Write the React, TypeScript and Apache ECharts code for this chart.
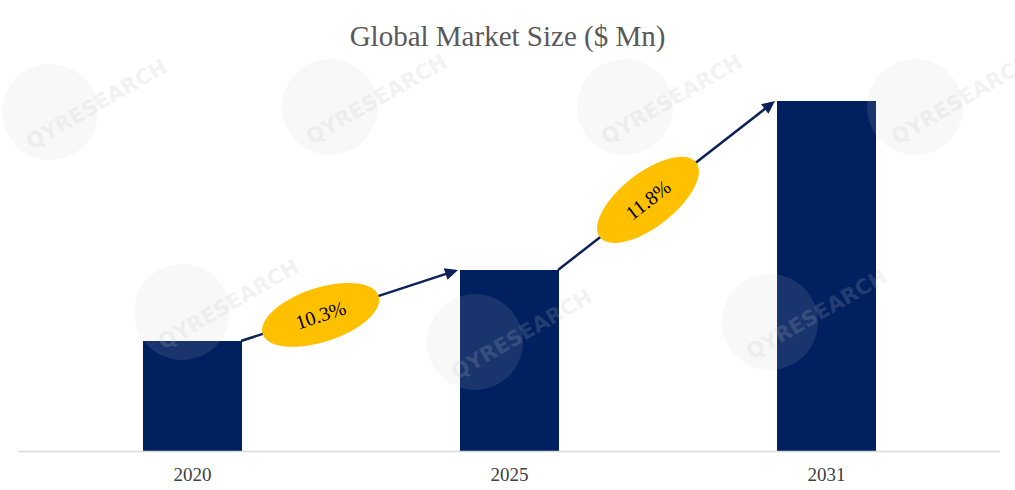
import React, { useEffect, useRef } from "react";
import * as echarts from "echarts";

const years = ["2020", "2025", "2031"];
const marketSize = [110, 181, 350];
const cagrLabels = ["10.3%", "11.8%"];
const titleText = "Global Market Size ($ Mn)";

const BAR_COLOR = "#002060";
const ARROW_COLOR = "#0b2258";
const ELLIPSE_COLOR = "#FFC000";
const SERIF = "'Liberation Serif', 'Times New Roman', serif";

const watermarkSpots: [number, number][] = [
  [50, 112], [330, 107], [625, 107], [915, 107],
  [182, 312], [475, 342], [770, 322],
];

export default function App() {
  const ref = useRef<HTMLDivElement>(null);

  useEffect(() => {
    if (!ref.current) return;
    const chart = echarts.init(ref.current, undefined, { renderer: "svg" });
    const barWidth = 99;
    chart.setOption({
      animation: false,
      backgroundColor: "#ffffff",
      title: {
        text: titleText,
        left: "center",
        top: 16,
        textStyle: {
          fontFamily: SERIF,
          fontSize: 29,
          fontWeight: "normal",
          color: "#595959",
        },
      },
      grid: { left: 34, right: 30, top: 51, bottom: 39 },
      xAxis: {
        type: "category",
        data: years,
        axisLine: { show: false },
        axisTick: { show: false },
        axisLabel: {
          fontFamily: SERIF,
          fontSize: 19,
          color: "#404040",
          margin: 14,
        },
      },
      yAxis: {
        type: "value",
        min: 0,
        max: 400,
        show: false,
        splitLine: { show: false },
      },
      series: [
        {
          type: "bar",
          data: marketSize,
          barWidth,
          itemStyle: { color: BAR_COLOR },
          z: 2,
        },
      ],
    });

    const pts = marketSize.map((v, i) =>
      chart.convertToPixel({ gridIndex: 0 }, [years[i], v]) as number[]
    );
    const base = chart.convertToPixel({ gridIndex: 0 }, [years[0], 0]) as number[];
    const half = barWidth / 2;
    const fractions = [0.367, 0.415];

    const graphics: any[] = [];
    graphics.push({
      type: "line",
      shape: { x1: 18, y1: base[1] + 0.5, x2: 1000, y2: base[1] + 0.5 },
      style: { stroke: "#d9d9d9", lineWidth: 1.5 },
      z: 3,
    });

    for (let i = 0; i < cagrLabels.length; i++) {
      const x1 = pts[i][0] + half - 1;
      const y1 = pts[i][1];
      const x2 = pts[i + 1][0] - half - 2;
      const y2 = pts[i + 1][1];
      const dx = x2 - x1;
      const dy = y2 - y1;
      const len = Math.sqrt(dx * dx + dy * dy);
      const ux = dx / len;
      const uy = dy / len;
      const headLen = 13;
      const headW = 6;
      const bx = x2 - ux * headLen;
      const by = y2 - uy * headLen;
      graphics.push({
        type: "line",
        shape: { x1, y1, x2: bx + ux * 2, y2: by + uy * 2 },
        style: { stroke: ARROW_COLOR, lineWidth: 2.5 },
        z: 5,
      });
      graphics.push({
        type: "polygon",
        shape: {
          points: [
            [x2, y2],
            [bx - uy * headW, by + ux * headW],
            [bx + uy * headW, by - ux * headW],
          ],
        },
        style: { fill: ARROW_COLOR },
        z: 5,
      });
      const f = fractions[i];
      const cx = x1 + dx * f;
      const cy = y1 + dy * f;
      const ang = Math.atan2(-dy, dx);
      graphics.push({
        type: "group",
        x: cx,
        y: cy,
        rotation: ang,
        z: 6,
        children: [
          {
            type: "ellipse",
            shape: { cx: 0, cy: 0, rx: 61, ry: 27 },
            style: { fill: ELLIPSE_COLOR },
            z: 6,
          },
          {
            type: "text",
            x: 0,
            y: 0,
            style: {
              text: cagrLabels[i],
              x: 0,
              y: 0,
              align: "center",
              verticalAlign: "middle",
              font: `20px ${SERIF}`,
              fill: "#000000",
            },
            z: 7,
          },
        ],
      });
    }

    watermarkSpots.forEach(([wx, wy]) => {
      graphics.push({
        type: "group",
        x: wx,
        y: wy,
        z: 10,
        silent: true,
        children: [
          {
            type: "circle",
            shape: { cx: 0, cy: 0, r: 48 },
            style: { fill: "rgba(200,200,200,0.13)" },
            z: 10,
          },
          {
            type: "text",
            x: -22,
            y: 32,
            rotation: (30 * Math.PI) / 180,
            style: {
              text: "QYRESEARCH",
              x: 0,
              y: 0,
              align: "left",
              verticalAlign: "middle",
              font: "bold 21px 'DejaVu Sans', sans-serif",
              fill: "rgba(190,190,190,0.2)",
            },
            z: 10,
          },
        ],
      });
    });

    chart.setOption({ graphic: graphics });

    return () => chart.dispose();
  }, []);

  return (
    <div
      ref={ref}
      style={{ position: "fixed", left: 0, top: 0, width: 1015, height: 490 }}
    />
  );
}
